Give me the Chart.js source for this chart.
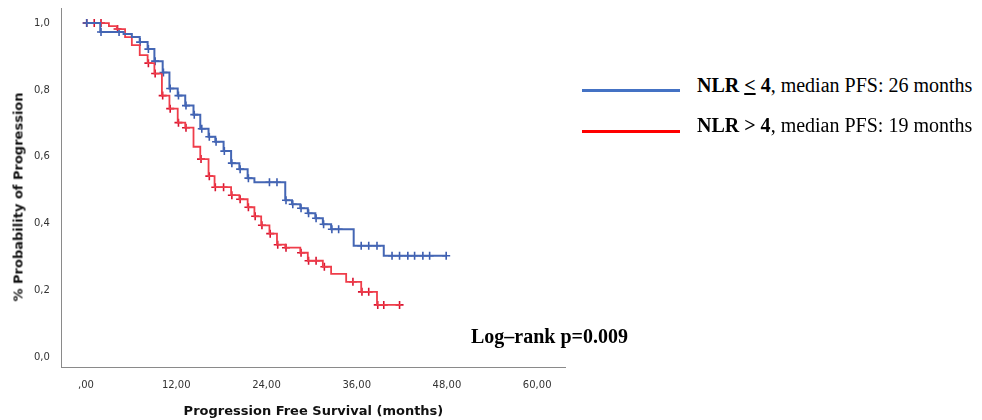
<!DOCTYPE html>
<html>
<head>
<meta charset="utf-8">
<script src="https://cdn.jsdelivr.net/npm/chart.js@4"></script>
<style>
  html, body { margin: 0; padding: 0; background: #fff; width: 982px; height: 420px; overflow: hidden; }
  #wrap { position: absolute; left: 0; top: 0; width: 600px; height: 420px; }
  .lg-line { position: absolute; left: 582px; width: 98px; height: 3px; }
  .txt { position: absolute; font-family: "Liberation Serif", "Times New Roman", serif; color: #000; white-space: nowrap; line-height: 1; }
  #ytitle { position: absolute; left: 18px; top: 197px; transform: translate(-50%, -50%) rotate(-90deg);
            font-family: "DejaVu Sans", sans-serif; font-size: 13px; font-weight: bold; color: #111; white-space: nowrap; }
</style>
</head>
<body>
<div id="wrap"><canvas id="c" width="600" height="420"></canvas></div>
<div id="ytitle">% Probability of Progression</div>
<div class="lg-line" style="top:89px; background:#4472c4;"></div>
<div class="lg-line" style="top:130px; background:#ff0000;"></div>
<div class="txt" style="left:697px; top:75px; font-size:20px;"><b>NLR <u>&lt;</u> 4</b>, median PFS: 26 months</div>
<div class="txt" style="left:697px; top:115px; font-size:20px;"><b>NLR &gt; 4</b>, median PFS: 19 months</div>
<div class="txt" style="left:471px; top:326px; font-size:20px; font-weight:bold;">Log–rank p=0.009</div>
<script>
// ---- data (months, survival proportion) ----
const blueTimes = [0, 1.9, 5.0, 6.1, 7.15, 8.2, 9.1, 10.2, 11.1, 12.2, 13.2, 14.3, 15.2, 16.3, 17.2, 18.3, 19.3, 20.4, 21.5, 22.4, 26.5, 27.4, 28.5, 29.5, 30.5, 31.5, 32.6, 35.6, 39.6, 47.9];
const blueSurv  = [1.0, 0.973, 0.967, 0.958, 0.943, 0.922, 0.886, 0.852, 0.804, 0.783, 0.753, 0.726, 0.684, 0.66, 0.645, 0.617, 0.581, 0.563, 0.536, 0.524, 0.47, 0.458, 0.446, 0.431, 0.416, 0.398, 0.383, 0.334, 0.304, 0.304];
const blueCensored = [0.1, 2.0, 4.4, 7.2, 8.3, 9.2, 10.3, 11.2, 12.3, 13.3, 14.4, 15.4, 16.4, 17.3, 18.4, 19.4, 20.5, 21.6, 24.4, 25.4, 26.6, 27.5, 28.6, 29.6, 30.6, 31.6, 32.7, 33.6, 36.6, 37.6, 38.7, 40.7, 41.7, 42.8, 43.7, 44.8, 45.7, 47.9];

const redTimes = [0, 3.05, 4.1, 5.2, 6.1, 7.15, 8.2, 9.1, 10.1, 11.1, 12.2, 13.2, 14.3, 15.2, 16.3, 17.1, 19.3, 20.4, 21.5, 22.4, 23.3, 24.4, 25.4, 26.5, 28.5, 29.5, 31.5, 32.6, 34.6, 36.6, 38.7, 41.9];
const redSurv  = [1.0, 0.991, 0.982, 0.958, 0.934, 0.904, 0.88, 0.849, 0.783, 0.744, 0.702, 0.687, 0.63, 0.593, 0.542, 0.509, 0.485, 0.473, 0.449, 0.422, 0.395, 0.37, 0.337, 0.328, 0.313, 0.289, 0.271, 0.25, 0.226, 0.196, 0.157, 0.157];
const redCensored = [0.1, 1.1, 2.0, 4.2, 8.3, 9.2, 10.2, 11.2, 12.3, 13.3, 15.3, 16.4, 17.2, 18.3, 19.4, 20.5, 21.6, 22.5, 23.4, 24.5, 25.5, 26.6, 28.6, 29.6, 30.6, 31.7, 35.5, 36.7, 37.6, 38.8, 39.6, 41.7];

const xTickValues = [0, 12, 24, 36, 48, 60];
const xTickLabels = [',00', '12,00', '24,00', '36,00', '48,00', '60,00'];
const yTickValues = [0, 0.2, 0.4, 0.6, 0.8, 1.0];
const yTickLabels = ['0,0', '0,2', '0,4', '0,6', '0,8', '1,0'];

// ---- helpers ----
function curve(times, surv) { return times.map((t, i) => ({ x: t, y: surv[i] })); }
function survAt(times, surv, t) {
  let s = surv[0];
  for (let i = 0; i < times.length; i++) { if (times[i] <= t) s = surv[i]; }
  return s;
}
function censorPts(ct, times, surv) { return ct.map(t => ({ x: t, y: survAt(times, surv, t) })); }

const BLUE = '#4466b4', RED = '#ef3d4a';
const tickFont = { family: '"DejaVu Sans", sans-serif', size: 10 };
const titleFont = { family: '"DejaVu Sans", sans-serif', size: 13, weight: 'bold' };

new Chart(document.getElementById('c'), {
  type: 'line',
  data: {
    datasets: [
      { data: curve(blueTimes, blueSurv), borderColor: BLUE, borderWidth: 2, stepped: true, pointRadius: 0, fill: false },
      { data: curve(redTimes, redSurv), borderColor: RED, borderWidth: 1.8, stepped: true, pointRadius: 0, fill: false },
      { data: censorPts(blueCensored, blueTimes, blueSurv), showLine: false, pointStyle: 'cross', pointRadius: 4, pointBorderWidth: 1.6, borderColor: '#3b5cb0', backgroundColor: '#3b5cb0' },
      { data: censorPts(redCensored, redTimes, redSurv), showLine: false, pointStyle: 'cross', pointRadius: 4, pointBorderWidth: 1.6, borderColor: '#d8122f', backgroundColor: '#d8122f' }
    ]
  },
  options: {
    responsive: false,
    animation: false,
    events: [],
    layout: { padding: { left: 32, top: 0, right: 35, bottom: 1 } },
    plugins: { legend: { display: false }, tooltip: { enabled: false } },
    scales: {
      x: {
        type: 'linear', min: -3.2, max: 63.7,
        afterBuildTicks: ax => { ax.ticks = xTickValues.map(v => ({ value: v })); },
        ticks: { font: tickFont, color: '#333', padding: 12, maxRotation: 0, autoSkip: false,
                 callback: (v) => xTickLabels[xTickValues.indexOf(v)] },
        grid: { display: false, drawTicks: false },
        border: { display: true, color: '#8a8a8a', width: 1 },
        title: { display: true, text: 'Progression Free Survival (months)', font: titleFont, color: '#111', padding: { top: 0, bottom: 0 } }
      },
      y: {
        type: 'linear', min: -0.03, max: 1.045,
        afterBuildTicks: ax => { ax.ticks = yTickValues.map(v => ({ value: v })); },
        ticks: { font: tickFont, color: '#333', padding: 2, autoSkip: false,
                 callback: (v) => yTickLabels[yTickValues.findIndex(a => Math.abs(a - v) < 1e-9)] },
        grid: { display: true, drawOnChartArea: false, drawTicks: true, tickLength: 10, color: 'rgba(0,0,0,0)', tickColor: 'rgba(0,0,0,0)' },
        border: { display: true, color: '#8a8a8a', width: 1 },
        title: { display: false }
      }
    }
  }
});
</script>
</body>
</html>
